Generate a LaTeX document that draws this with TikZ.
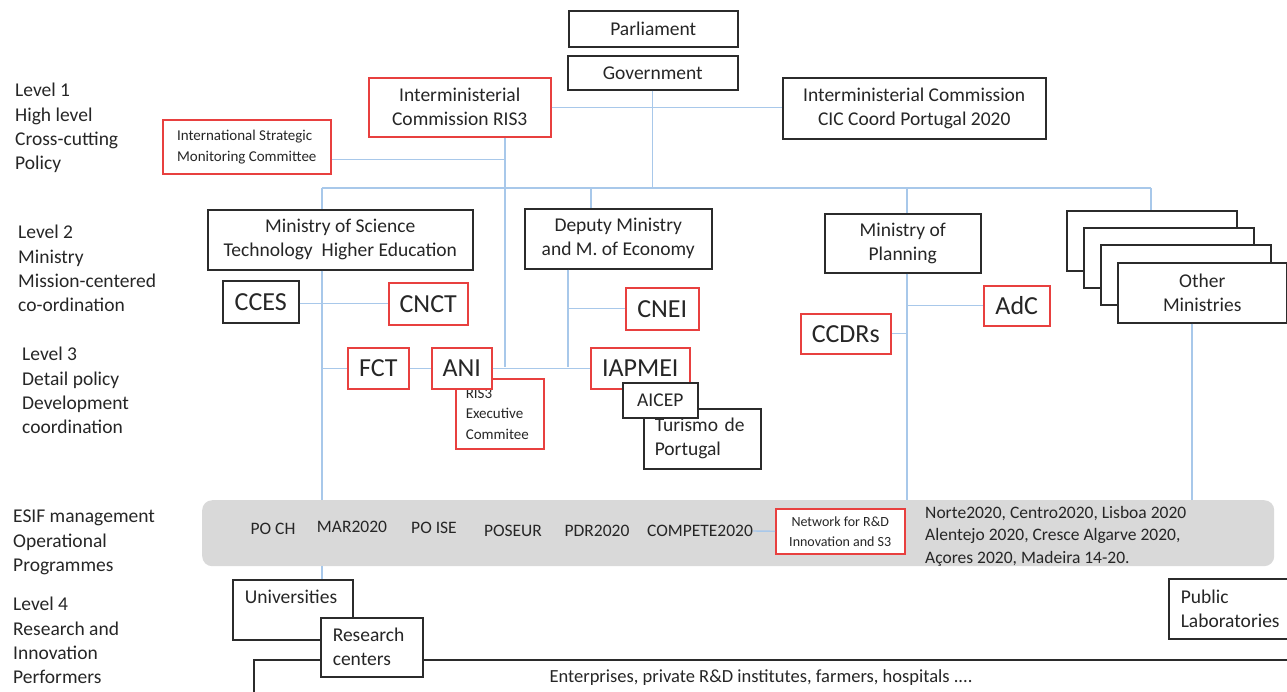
\documentclass[tikz,border=0pt]{standalone}
\usepackage{fontspec}
\setmainfont{Carlito}

\definecolor{boxline}{HTML}{2B2B2B}
\definecolor{boxred}{HTML}{E8403F}
\definecolor{linkblue}{HTML}{A8C8EA}
\definecolor{bandgray}{HTML}{D9D9D9}
\definecolor{txt}{HTML}{262626}

\tikzset{
	box/.style={draw=boxline, line width=1.5pt, fill=white, anchor=north west, inner sep=0pt,
		align=center, text=txt, font=\fontsize{19.5}{24}\selectfont},
	rbox/.style={box, draw=boxred},
	big/.style={font=\fontsize{26}{30}\selectfont},
	wh/.style 2 args={minimum width=#1pt, minimum height=#2pt},
	link/.style={draw=linkblue, line width=1.4pt},
	lvl/.style={anchor=north west, align=left, inner sep=0pt, text=txt, font=\fontsize{19.5}{24.3}\selectfont},
	lbl/.style={inner sep=0pt, text=txt, font=\fontsize{19.5}{24}\selectfont},
	op/.style={inner sep=0pt, text=txt, font=\fontsize{17.5}{22.5}\selectfont},
	band/.style={fill=bandgray, rounded corners=10pt, anchor=north west, inner sep=0pt},
}

\begin{document}
\begin{tikzpicture}[x=1pt,y=-1pt]
	\useasboundingbox (0,0) rectangle (1287,691);

	% level names
	\node[lvl] (lev1) at (15,83) {Level 1\\High level\\Cross-cutting\\Policy};
	\node[lvl] (lev2) at (18,225) {Level 2\\Ministry\\Mission-centered\\co-ordination};
	\node[lvl] (lev3) at (22,347) {Level 3\\Detail policy\\Development\\coordination};
	\node[lvl] (levop) at (13,510) {ESIF management\\Operational\\Programmes};
	\node[lvl] (lev4) at (13,597) {Level 4\\Research and\\Innovation\\Performers};

	% level 1
	\node[box, wh={169}{36}] (parl) at (568,10) {Parliament};
	\node[box, wh={170}{34}] (gov) at (567,55) {Government};
	\node[rbox, wh={182}{59}] (ris3) at (368,77) {Interministerial\\Commission RIS3};
	\node[rbox, wh={168}{54}, align=left, font=\fontsize{15}{21}\selectfont] (ismc) at (162,119) {International Strategic\\Monitoring Committee};
	\node[box, wh={263}{61}] (cic) at (782,77) {Interministerial Commission\\CIC Coord Portugal 2020};

	% level 2
	\node[box, wh={265}{60}] (minsci) at (207,209) {Ministry of Science\\Technology\ \ Higher Education};
	\node[box, wh={187}{60}] (deputy) at (524,208) {Deputy Ministry\\and M. of Economy};
	\node[box, wh={156}{59}] (planning) at (824,213) {Ministry of\\Planning};
	\node[box, wh={170}{60}] (oth1) at (1066,210) {};
	\node[box, wh={170}{60}] (oth2) at (1083,227) {};
	\node[box, wh={170}{60}] (oth3) at (1100,244) {};
	\node[box, wh={169}{60}] (oth4) at (1117,262) {Other\\Ministries};
	\node[box, big, wh={76}{42}] (cces) at (222,280) {CCES};
	\node[rbox, big, wh={79}{42}] (cnct) at (388,282) {CNCT};
	\node[rbox, big, wh={73}{42}] (cnei) at (625,287) {CNEI};
	\node[rbox, big, wh={66}{40}] (adc) at (983,285) {AdC};
	\node[rbox, big, wh={90}{40}] (ccdrs) at (800,313) {CCDRs};

	% level 3
	\node[rbox, wh={88}{70}, align=left, text width=68pt, inner xsep=10pt,
		font=\fontsize{15}{20.5}\selectfont] (ris3ex) at (455,378) {RIS3\\Executive\\Commitee};
	\node[rbox, big, wh={61}{41}] (fct) at (347,347) {FCT};
	\node[rbox, big, wh={60}{41}] (ani) at (431,347) {ANI};
	\node[box, wh={117}{60}, align=left, text width=95pt, inner xsep=11pt] (turismo) at (643,408) {Turismo de\\Portugal};
	\node[rbox, big, wh={99}{41}] (iapmei) at (590,347) {IAPMEI};
	\node[box, wh={75}{35}] (aicep) at (622,382) {AICEP};

	% operational programmes
	\node[band, wh={1072}{66}] (esif) at (202,500) {};
	\node[op] (poch) at (273,529) {PO CH};
	\node[op] (mar) at (352,527) {MAR2020};
	\node[op] (poise) at (434,528) {PO ISE};
	\node[op] (poseur) at (513,531) {POSEUR};
	\node[op] (pdr) at (597,531) {PDR2020};
	\node[op] (compete) at (700,531) {COMPETE2020};
	\node[rbox, wh={129}{45}, font=\fontsize{14}{20}\selectfont] (network) at (775,508) {Network for R\&D\\Innovation and S3};
	\node[op, anchor=north west, align=left] (norte) at (925,506) {Norte2020, Centro2020, Lisboa 2020\\Alentejo 2020, Cresce Algarve 2020,\\Açores 2020, Madeira 14-20.};

	% level 4
	\node[box, wh={1060}{60}] (enterp) at (253,659) {};
	\node[lbl, font=\fontsize{18.5}{22}\selectfont] (entlbl) at (761,678) {Enterprises, private R\&D institutes, farmers, hospitals ....};
	\node[box, wh={120}{60}] (univ) at (232,579) {};
	\node[lbl] (univlbl) at (291,597) {Universities};
	\node[box, wh={102}{59}, align=left, text width=78pt, inner xsep=12pt] (research) at (320,617) {Research\\centers};
	\node[box, wh={140}{60}, align=left, text width=116pt, inner xsep=12pt] (publab) at (1168,578) {Public\\Laboratories};

	% connectors
	\coordinate (busL) at (322,188);
	\coordinate (busR) at (1151,188);
	\coordinate (r3x) at (505,367);
	\coordinate (depin) at (591,188);
	\coordinate (depx) at (568,367);
	\coordinate (planx) at (907,300);
	\coordinate (othx) at (1192,400);

	\draw[link] (ris3.east) -- (ris3.east -| cic.west);
	\draw[link] (gov.south) -- (gov.south |- busL);
	\draw[link] (busL) -- (busR);
	\draw[link] (ris3.south -| r3x) -- (r3x);
	\draw[link] ([yshift=-13pt]ismc.east) coordinate (ism) -- (ism -| r3x);
	\draw[link] (busL) -- (busL |- minsci.north);
	\draw[link] (depin) -- (depin |- deputy.north);
	\draw[link] (planx |- busL) -- (planx |- planning.north);
	\draw[link] (busR) -- (busR |- oth1.north);
	\draw[link] (minsci.south -| busL) -- (busL |- esif.north);
	\draw[link] (busL |- esif.south) -- (busL |- univ.north);
	\draw[link] (cnct.west -| cces.east) -- (cnct.west);
	\draw[link] (fct.west -| busL) -- (fct.west);
	\draw[link] (fct.east) -- (ani.west);
	\draw[link] (ani.east) -- (iapmei.west);
	\draw[link] (deputy.south -| depx) -- (depx);
	\draw[link] (depx |- cnei.west) -- (cnei.west);
	\draw[link] (planning.south -| planx) -- (planx |- esif.north);
	\draw[link] (planx |- adc.west) -- (adc.west);
	\draw[link] (ccdrs.east) -- (ccdrs.east -| planx);
	\draw[link] (oth4.south -| othx) -- (othx |- esif.north);
	\draw[link] (compete.east) -- (network.west);
\end{tikzpicture}
\end{document}
